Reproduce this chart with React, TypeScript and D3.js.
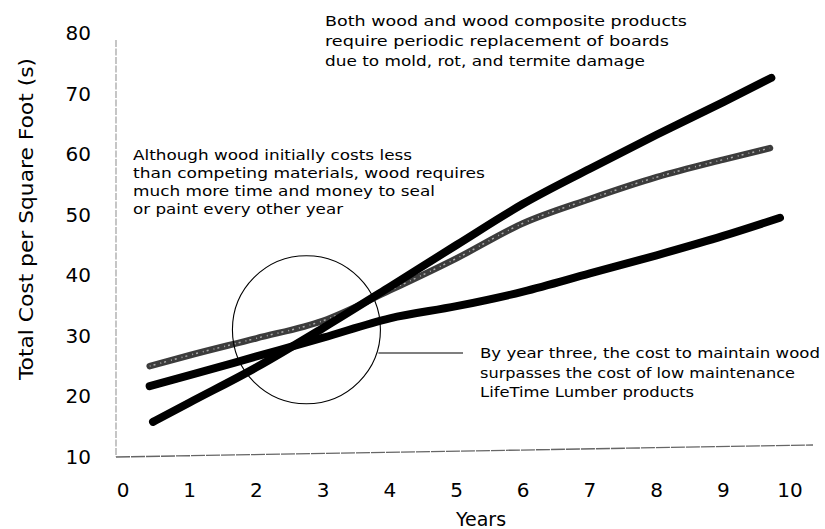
import { useEffect, useRef } from 'react'
import * as d3 from 'd3'

// values
const xTicks = [0, 1, 2, 3, 4, 5, 6, 7, 8, 9, 10]
const yTicks = [10, 20, 30, 40, 50, 60, 70, 80]

const woodYears = [0.45, 1, 2, 3, 4, 5, 6, 7, 8, 9, 9.72]
const woodCost = [15.8, 19.0, 24.8, 31.3, 38.1, 45.0, 51.8, 57.6, 63.2, 68.6, 72.6]

const compositeYears = [0.4, 1, 2, 3, 4, 5, 6, 7, 8, 9, 9.7]
const compositeCost = [25.0, 26.8, 29.6, 32.5, 37.5, 42.8, 48.6, 52.6, 56.2, 59.1, 61.0]

const lifetimeYears = [0.4, 1, 2, 3, 4, 5, 6, 7, 8, 9, 9.85]
const lifetimeCost = [21.7, 23.5, 26.6, 29.7, 32.9, 34.9, 37.3, 40.3, 43.3, 46.5, 49.5]

const crossover = { year: 2.75, cost: 31.0 }

const noteTop = [
  'Both wood and wood composite products',
  'require periodic replacement of boards',
  'due to mold, rot, and termite damage',
]
const noteLeft = [
  'Although wood initially costs less',
  'than competing materials, wood requires',
  'much more time and money to seal',
  'or paint every other year',
]
const noteRight = [
  'By year three, the cost to maintain wood',
  'surpasses the cost of low maintenance',
  'LifeTime Lumber products',
]

const FONT = '"DejaVu Sans", sans-serif'

const App = () => {
  const svgRef = useRef<SVGSVGElement>(null)

  useEffect(() => {
    if (!svgRef.current) return
    const svg = d3.select(svgRef.current)
    svg.selectAll('*').remove()

    const x = d3.scaleLinear().domain([0, 10]).range([123, 790])
    const y = d3.scaleLinear().domain([10, 80]).range([457, 33])

    // axis lines (faint, like the scan; bottom one a bit skewed)
    svg.append('line')
      .attr('x1', 116).attr('x2', 116)
      .attr('y1', 40).attr('y2', y(10))
      .attr('stroke', '#a0a0a0').attr('stroke-width', 1.2)
      .attr('stroke-dasharray', '7,1.5')
    svg.append('line')
      .attr('x1', 116).attr('x2', 813)
      .attr('y1', y(10)).attr('y2', y(10) - 12)
      .attr('stroke', '#666').attr('stroke-width', 1.3)
      .attr('stroke-dasharray', '14,1')

    // tick labels
    svg.append('g')
      .selectAll('text')
      .data(yTicks)
      .enter().append('text')
      .attr('x', 91)
      .attr('y', d => y(d) + 7)
      .attr('text-anchor', 'end')
      .style('font-family', FONT)
      .style('font-size', '20px')
      .text(d => d)

    svg.append('g')
      .selectAll('text')
      .data(xTicks)
      .enter().append('text')
      .attr('x', d => x(d))
      .attr('y', 497)
      .attr('text-anchor', 'middle')
      .style('font-family', FONT)
      .style('font-size', '20px')
      .text(d => d)

    svg.append('text')
      .attr('x', 481).attr('y', 526)
      .attr('text-anchor', 'middle')
      .style('font-family', FONT)
      .style('font-size', '19px')
      .text('Years')

    svg.append('text')
      .attr('transform', 'translate(33,219) rotate(-90)')
      .attr('text-anchor', 'middle')
      .attr('textLength', 322)
      .attr('lengthAdjust', 'spacingAndGlyphs')
      .style('font-family', FONT)
      .style('font-size', '20px')
      .text('Total Cost per Square Foot (s)')

    const line = d3.line<[number, number]>()
      .x(d => x(d[0]))
      .y(d => y(d[1]))
      .curve(d3.curveMonotoneX)

    const pts = (yrs: number[], vals: number[]) => yrs.map((v, i) => [v, vals[i]] as [number, number])

    // composite: speckled dark grey
    svg.append('path')
      .attr('d', line(pts(compositeYears, compositeCost)))
      .attr('fill', 'none')
      .attr('stroke', '#3c3c3c')
      .attr('stroke-width', 6.5)
      .attr('stroke-linecap', 'round')
    svg.append('path')
      .attr('d', line(pts(compositeYears, compositeCost)))
      .attr('fill', 'none')
      .attr('stroke', '#aaa')
      .attr('stroke-width', 1.5)
      .attr('stroke-dasharray', '1,3,2,5')

    svg.append('path')
      .attr('d', line(pts(lifetimeYears, lifetimeCost)))
      .attr('fill', 'none')
      .attr('stroke', '#000')
      .attr('stroke-width', 8)
      .attr('stroke-linecap', 'round')

    svg.append('path')
      .attr('d', line(pts(woodYears, woodCost)))
      .attr('fill', 'none')
      .attr('stroke', '#000')
      .attr('stroke-width', 8)
      .attr('stroke-linecap', 'round')

    // crossover circle and its callout
    const r = 74
    const cx = x(crossover.year)
    const cy = y(crossover.cost)
    svg.append('circle')
      .attr('cx', cx).attr('cy', cy).attr('r', r)
      .attr('fill', 'none')
      .attr('stroke', '#000')
      .attr('stroke-width', 1.1)
    svg.append('line')
      .attr('x1', cx + r - 2).attr('x2', 463)
      .attr('y1', 353).attr('y2', 353)
      .attr('stroke', '#000')
      .attr('stroke-width', 1.1)

    const note = (lines: string[], x0: number, y0: number, step: number, widths: number[]) => {
      svg.append('g')
        .selectAll('text')
        .data(lines)
        .enter().append('text')
        .attr('x', x0)
        .attr('y', (_, i) => y0 + i * step)
        .attr('textLength', (_, i) => widths[i])
        .attr('lengthAdjust', 'spacingAndGlyphs')
        .style('font-family', FONT)
        .style('font-size', '13.5px')
        .text(d => d)
    }
    note(noteTop, 325, 26, 20, [362, 344, 320])
    note(noteLeft, 133, 160, 18, [279, 352, 302, 210])
    note(noteRight, 480, 358, 19.5, [340, 315, 214])
  }, [])

  return (
    <svg
      ref={svgRef}
      width={825}
      height={529}
      style={{ position: 'absolute', left: 0, top: 0, display: 'block', background: '#fff' }}
    ></svg>
  )
}

export default App
